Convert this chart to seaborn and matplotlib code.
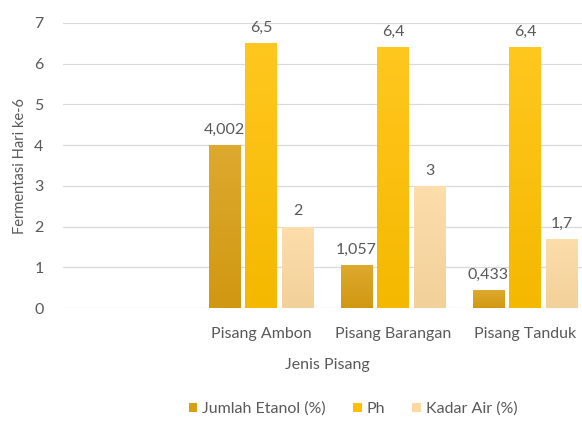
import numpy as np
import pandas as pd
import matplotlib
matplotlib.use("Agg")
import matplotlib.pyplot as plt
import matplotlib.colors as mcolors
from matplotlib.patches import Patch
import seaborn as sns

# Data: fermentation results on day 6 for three banana varieties
categories = ["", "Pisang Ambon", "Pisang Barangan", "Pisang Tanduk"]
varieties = ["Pisang Ambon", "Pisang Barangan", "Pisang Tanduk"]
series = ["Jumlah Etanol (%)", "Ph", "Kadar Air (%)"]
etanol = [4.002, 1.057, 0.433]
ph = [6.5, 6.4, 6.4]
kadar_air = [2, 3, 1.7]
colors = ["#D99E12", "#FFC000", "#FCD9A0"]

rows = []
for name, vals in zip(series, [etanol, ph, kadar_air]):
    for v, val in zip(varieties, vals):
        rows.append({"Jenis Pisang": v, "Parameter": name, "Nilai": val})
df = pd.DataFrame(rows)

sns.set_theme(style="white")
plt.rcParams["font.family"] = ["Lato", "DejaVu Sans"]
text_color = "#595959"
fs = 11.5

fig = plt.figure(figsize=(5.82, 4.21), dpi=100)
ax = fig.add_axes([63 / 582, 113 / 421, 528 / 582, 285 / 421])

sns.barplot(data=df, x="Jenis Pisang", y="Nilai", hue="Parameter",
            order=categories, hue_order=series, palette=colors,
            saturation=1, width=0.84, gap=0.16, errorbar=None, legend=False,
            linewidth=0, ax=ax, zorder=2)


def shade(c, f):
    r, g, b = mcolors.to_rgb(c)
    if f >= 0:
        return (r + (1 - r) * f, g + (1 - g) * f, b + (1 - b) * f)
    return (r * (1 + f), g * (1 + f), b * (1 + f))


# soft vertical gradient inside each bar
for patch in list(ax.patches):
    h = patch.get_height()
    if not np.isfinite(h) or h <= 0:
        continue
    base = patch.get_facecolor()
    top = shade(base, 0.12)
    bottom = shade(base, -0.04)
    cmap = mcolors.LinearSegmentedColormap.from_list("g", [bottom, top])
    x0 = patch.get_x()
    w = patch.get_width()
    grad = np.linspace(0, 1, 64).reshape(-1, 1)
    im = ax.imshow(grad, cmap=cmap, origin="lower", aspect="auto",
                   extent=[x0, x0 + w, 0, h], zorder=2.1)
    im.set_clip_path(patch)

for cont in ax.containers:
    ax.bar_label(cont, fmt=lambda v: f"{v:g}".replace(".", ","),
                 padding=6, fontsize=fs, color=text_color)

ax.set_xlim(-0.5, 3.5)
ax.set_ylim(0, 7)
ax.set_yticks(range(0, 8))
ax.yaxis.grid(True, color="#D9D9D9", linewidth=0.9)
ax.set_axisbelow(True)
for s in ax.spines.values():
    s.set_visible(False)
ax.tick_params(axis="both", length=0, colors=text_color, labelsize=fs)
ax.tick_params(axis="y", pad=14)
ax.tick_params(axis="x", pad=14)

ax.set_xlabel("Jenis Pisang", color=text_color, fontsize=fs, labelpad=12)
ax.set_ylabel("Fermentasi Hari ke-6", color=text_color, fontsize=10.5, labelpad=5)

handles = [Patch(facecolor=c, edgecolor="none") for c in colors]
fig.legend(handles, series, loc="center", bbox_to_anchor=(353 / 582, 1 - 409 / 421),
           ncol=3, frameon=False, handlelength=0.55, handleheight=0.55,
           handletextpad=0.3, columnspacing=1.7, fontsize=fs,
           labelcolor=text_color)

fig.savefig("out.png", dpi=100, facecolor="white")
